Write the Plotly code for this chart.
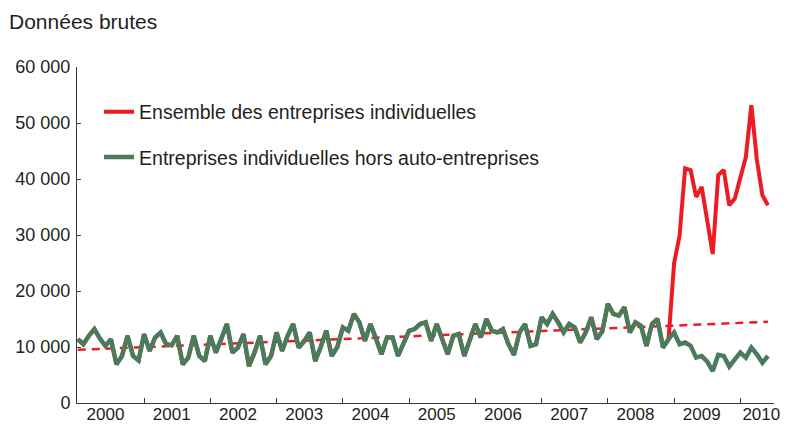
import plotly.graph_objects as go

# monthly series, Jan 2000 -> Jun 2010 (month index 0..125)
hors_auto = [
    11400, 10500, 12000, 13200, 11500, 10200, 11400, 6900, 8400, 12000, 8400, 7600,    # 2000
    12300, 9300, 11700, 12600, 10500, 10300, 12000, 6900, 8100, 12000, 8400, 7500,     # 2001
    12000, 9000, 11500, 14100, 9000, 9900, 12300, 6600, 9000, 12000, 6900, 8400,       # 2002
    12600, 9300, 12000, 14100, 9900, 11000, 12600, 7500, 10000, 12900, 8400, 10000,    # 2003
    13500, 12900, 15900, 14400, 11100, 14100, 11500, 8700, 11700, 11700, 8400, 10500,  # 2004
    12900, 13200, 14100, 14400, 11100, 14100, 11500, 8700, 12000, 12300, 8400, 11000,  # 2005
    14100, 11700, 15000, 12900, 12600, 13200, 10500, 8600, 12600, 14100, 10200, 10500, # 2006
    15300, 14100, 15900, 14400, 12600, 14100, 13500, 10800, 12600, 15300, 11400, 12800,# 2007
    17700, 15900, 15600, 17100, 12600, 14400, 13800, 10200, 14100, 15000, 9900, 11400, # 2008
    12600, 10500, 10800, 10200, 8100, 8400, 7400, 5700, 8600, 8400, 6500, 7800,        # 2009
    9000, 8100, 9900, 8700, 7200, 8400,                                                # 2010
]
# all individual enterprises from Jan 2009 (identical to the series above before)
ensemble_2009 = [
    24900, 29900, 41900, 41600, 36800, 38600, 32800, 26600, 40700, 41600, 35300, 36500,
    40200, 43900, 53200, 43400, 37100, 35300,
]
trend_x = [0, 125]
trend_y = [9500, 14500]

years = ['2000', '2001', '2002', '2003', '2004', '2005', '2006', '2007', '2008', '2009', '2010']
y_ticks = [0, 10000, 20000, 30000, 40000, 50000, 60000]
y_labels = ['0', '10 000', '20 000', '30 000', '40 000', '50 000', '60 000']

months = list(range(len(hors_auto)))
ensemble = hors_auto[:108] + ensemble_2009

RED = '#ed1c24'
GREEN = '#4a7b5a'
TXT = '#231f20'
AXIS = '#3a3a3a'
FONT = 'Liberation Sans, Arial, sans-serif'

fig = go.Figure()

fig.add_trace(go.Scatter(
    x=trend_x, y=trend_y, mode='lines',
    line=dict(color=RED, width=2.5, dash='8px,6px'),
    showlegend=False, hoverinfo='skip'
))
fig.add_trace(go.Scatter(
    x=months, y=ensemble, mode='lines',
    line=dict(color=RED, width=4),
    name='Ensemble des entreprises individuelles',
    legendgroup='a'
))
fig.add_trace(go.Scatter(
    x=months, y=hors_auto, mode='lines',
    line=dict(color=GREEN, width=4.5),
    name='Entreprises individuelles hors auto-entreprises',
    legendgroup='b'
))

fig.add_annotation(
    text='Données brutes', xref='paper', yref='paper',
    x=-0.1003, y=1.134, xanchor='left', yanchor='middle',
    showarrow=False, font=dict(size=21, color=TXT, family=FONT)
)

# page body has an 8px margin, so the figure is sized to fit the window
fig.update_layout(
    width=774, height=418,
    margin=dict(l=69, r=8, t=59, b=23),
    plot_bgcolor='white', paper_bgcolor='white',
    font=dict(family=FONT, color=TXT, size=18),
    legend=dict(
        x=0.0316, y=0.924, xanchor='left', yanchor='top',
        font=dict(size=19.5, color=TXT), tracegroupgap=17,
        bgcolor='rgba(0,0,0,0)'
    ),
)

# year labels sit inside each year, the last one nudged so it stays on the page
label_pos = [min(12 * i + 5, 123.8) for i in range(len(years))]

fig.update_xaxes(
    range=[-0.15, 126.1], automargin=False,
    tickmode='array', tickvals=label_pos, ticktext=years,
    ticks='', showgrid=False, zeroline=False,
    showline=True, linecolor=AXIS, linewidth=1,
    ticklabelstandoff=-4, ticklabeloverflow='allow',
    minor=dict(tickmode='array', tickvals=[12 * i for i in range(1, 11)],
               ticks='inside', ticklen=5, tickcolor=AXIS, showgrid=False),
    tickfont=dict(size=17, color=TXT),
)
fig.update_yaxes(
    range=[0, 60000], automargin=False,
    tickmode='array', tickvals=y_ticks, ticktext=y_labels,
    ticks='inside', ticklen=4, tickcolor=AXIS,
    showgrid=False, zeroline=False,
    showline=True, linecolor=AXIS, linewidth=1,
    ticklabelstandoff=2,
    tickfont=dict(size=18, color=TXT),
)

fig.write_html('out.html')
